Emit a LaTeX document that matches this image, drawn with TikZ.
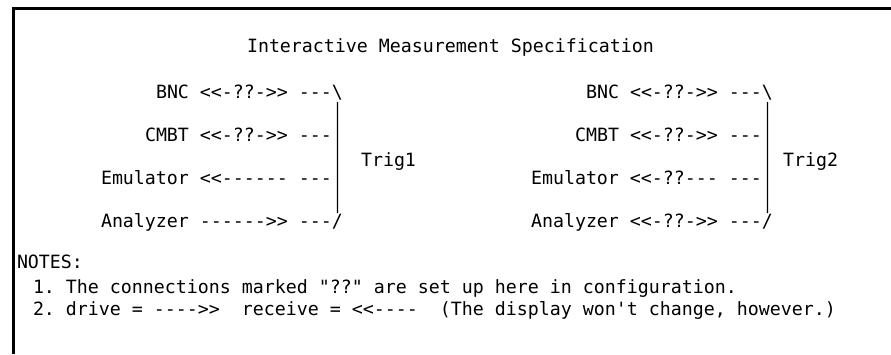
\documentclass[tikz,border=0pt]{standalone}
\usepackage{fontspec}
\setmonofont{DejaVu Sans Mono}
\usetikzlibrary{calc}
\definecolor{tinta}{HTML}{000000}

\tikzset{
  term/.style={font=\ttfamily\fontsize{18.27}{20}\selectfont,text=tinta,
               inner sep=0pt,outer sep=0pt,anchor=base west},
  marco/.style={tinta,line width=2.6pt},
  barra/.style={tinta,line width=1.1pt},
}

\begin{document}
\begin{tikzpicture}[x=1pt,y=-1pt]
  \useasboundingbox (0,0) rectangle (891,354);
  % marco de la pantalla
  \coordinate (M1) at (13.2,354);
  \coordinate (M2) at (13.2,8.2);
  \coordinate (M3) at (891,8.2);
  \draw[marco] (M1) -- (M2) -- (M3);
  % titulo
  \node[term] (titulo) at (247,52) {Interactive Measurement Specification};
  % grupo Trig1
  \begin{scope}
    \node[term] (bncA) at (156,98)  {BNC <<-??->> ---\textbackslash};
    \node[term] (cmbtA) at (145,141) {CMBT <<-??->> ---};
    \node[term] (emuA) at (101,184) {Emulator <<------ ---};
    \node[term] (anaA) at (101,227) {Analyzer ------>> ---/};
    \draw[barra] ([xshift=-5.5pt,yshift=-4pt]bncA.base east)
              -- ([xshift=-5.5pt,yshift=14pt]anaA.base east);
    \node[term] (trigA) at (361,166) {Trig1};
  \end{scope}
  % grupo Trig2
  \begin{scope}[xshift=430pt]
    \node[term] (bncB) at (156,98)  {BNC <<-??->> ---\textbackslash};
    \node[term] (cmbtB) at (145,141) {CMBT <<-??->> ---};
    \node[term] (emuB) at (101,184) {Emulator <<-??--- ---};
    \node[term] (anaB) at (101,227) {Analyzer <<-??->> ---/};
    \draw[barra] ([xshift=-5.5pt,yshift=-4pt]bncB.base east)
              -- ([xshift=-5.5pt,yshift=14pt]anaB.base east);
    \node[term] (trigB) at (353,166) {Trig2};
  \end{scope}
  % notas
  \node[term] (notas) at (17,268) {NOTES:};
  \node[term] (nota1) at (33,293) {1. The connections marked "??" are set up here in configuration.};
  \node[term] (nota2) at (33,315) {2. drive = ---->>\ \ receive = <<----\ \ (The display won't change, however.)};
\end{tikzpicture}
\end{document}
